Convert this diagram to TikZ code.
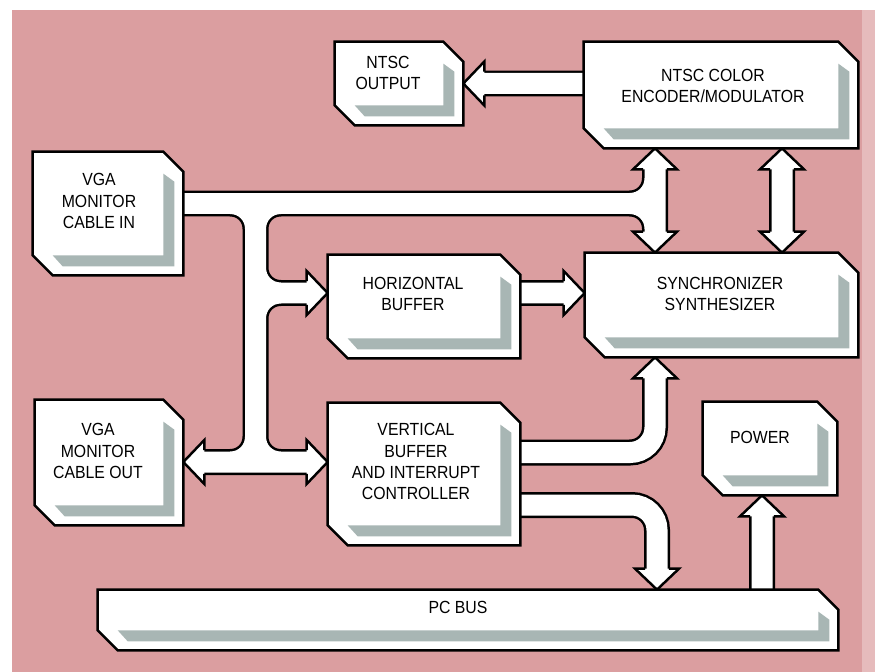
\documentclass[tikz,border=0pt]{standalone}
\usepackage{fontspec}
\setmainfont{Liberation Sans}[FakeStretch=0.9]
\usetikzlibrary{calc}
\definecolor{fond}{RGB}{219,158,160}
\definecolor{ombre}{RGB}{168,182,180}
\pgfdeclarelayer{liaisons}
\pgfsetlayers{liaisons,main}

\begin{document}
\begin{tikzpicture}[x=0.02cm, y=-0.02cm,
  bloc/.style={rectangle, draw=none, inner sep=0pt},
  contour/.style={draw=black, line width=1.4pt, fill=white},
  texte/.style={align=center, font=\fontsize{10}{12}\selectfont},
  bus/.style={draw=white, line width=0.42cm, rounded corners=0.5cm,
    preaction={draw=black, line width=0.52cm}},
  pointe/.pic={\fill[white] (-21,-11) -- (-21,-22) -- (0,0) -- (-21,22) -- (-21,11) -- cycle;
    \draw[line width=1.4pt] (-21,-11.8) -- (-21,-22) -- (0,0) -- (-21,22) -- (-21,11.8);}
]
\useasboundingbox (0,0) rectangle (875,672);
% Blocs
\node[bloc, minimum width=2.56cm, minimum height=1.66cm] (ntscout) at (399,83.5) {};
\node[bloc, minimum width=5.48cm, minimum height=2.12cm] (enc) at (721,95) {};
\node[bloc, minimum width=3.00cm, minimum height=2.46cm] (vgain) at (108,213.5) {};
\node[bloc, minimum width=5.46cm, minimum height=2.08cm] (sync) at (721.5,305) {};
\node[bloc, minimum width=3.84cm, minimum height=2.06cm] (hbuf) at (424,306.5) {};
\node[bloc, minimum width=2.96cm, minimum height=2.50cm] (vgaout) at (109,462.5) {};
\node[bloc, minimum width=3.84cm, minimum height=2.84cm] (vbuf) at (424,474) {};
\node[bloc, minimum width=2.68cm, minimum height=1.86cm] (power) at (770,448.5) {};
\node[bloc, minimum width=14.8cm, minimum height=1.20cm] (pcbus) at (468,620) {};
% Contours et ombres
\foreach \b in {ntscout,enc,vgain,sync,hbuf,vgaout,vbuf,power,pcbus} {
  \draw[contour] (\b.north west) -- ([shift={(-20,0)}]\b.north east) -- ([shift={(0,20)}]\b.north east)
    -- (\b.south east) -- ([shift={(20,0)}]\b.south west) -- ([shift={(0,-20)}]\b.south west) -- cycle;
  \fill[ombre] ([shift={(-20,22)}]\b.north east) -- ([shift={(-9,30)}]\b.north east)
    -- ([shift={(-9,-9)}]\b.south east) -- ([shift={(30,-9)}]\b.south west)
    -- ([shift={(20,-20)}]\b.south west) -- ([shift={(-20,-20)}]\b.south east) -- cycle;
}
% Textes
\node[texte] (ntscoutT) at (388,73) {NTSC\\OUTPUT};
\node[texte] (encT) at (713,86) {NTSC COLOR\\ENCODER/MODULATOR};
\node[texte] (vgainT) at (99,201) {VGA\\MONITOR\\CABLE IN};
\node[texte] (syncT) at (720,294) {SYNCHRONIZER\\SYNTHESIZER};
\node[texte] (hbufT) at (413,294) {HORIZONTAL\\BUFFER};
\node[texte] (vgaoutT) at (98,451) {VGA\\MONITOR\\CABLE OUT};
\node[texte] (vbufT) at (416,461.5) {VERTICAL\\BUFFER\\AND INTERRUPT\\CONTROLLER};
\node[texte] (powerT) at (760,437) {POWER};
\node[texte] (pcbusT) at (458,607) {PC BUS};
% Points du bus
\coordinate (jt) at (255.5,203.5);
\coordinate (jm) at (255.5,293);
\coordinate (jb) at (255.5,462);
\coordinate (jh) at (655,203.5);
\coordinate (jd) at (782,203.5);
\coordinate (kv) at (655,452.5);
\coordinate (kp) at (657,505);
\coordinate (kw) at (762,540);
\begin{pgfonlayer}{liaisons}
\fill[fond] (12,10) rectangle (875,672);
\fill[fond!70!white] (862,10) rectangle (875,672);
% Bus
\draw[bus]
  (vgain.east |- jt) -- (jh)
  (jt) -- (jb)
  (vgain.east |- jt) -- (jt) -- (jm) -- ($(hbuf.west |- jm)+(-20,0)$)
  (jh) -- (jt) -- (jm) -- ($(hbuf.west |- jm)+(-20,0)$)
  ($(hbuf.west |- jm)+(-20,0)$) -- (jm) -- (jb) -- ($(vgaout.east |- jb)+(20,0)$)
  (jm) -- (jb) -- ($(vbuf.west |- jb)+(-20,0)$)
  ($(vgaout.east |- jb)+(20,0)$) -- ($(vbuf.west |- jb)+(-20,0)$)
  (jt) -- (jh) -- ($(enc.south -| jh)+(0,20)$)
  (jt) -- (jh) -- ($(sync.north -| jh)+(0,-20)$)
  ($(enc.south -| jh)+(0,20)$) -- ($(sync.north -| jh)+(0,-20)$)
  ($(enc.south -| jd)+(0,20)$) -- ($(sync.north -| jd)+(0,-20)$)
  (enc.west |- ntscout.east) -- ($(ntscout.east)+(20,0)$)
  (hbuf.east |- jm) -- ($(sync.west |- jm)+(-20,0)$)
  (vbuf.east |- kv) -- (kv) -- ($(sync.south -| kv)+(0,20)$)
  (vbuf.east |- kp) -- (kp) -- ($(pcbus.north -| kp)+(0,-20)$)
  (pcbus.north -| kw) -- ($(power.south -| kw)+(0,20)$);
% Pointes
\pic[rotate=180] at (ntscout.east) {pointe};
\pic[rotate=90] at (enc.south -| jh) {pointe};
\pic[rotate=-90] at (sync.north -| jh) {pointe};
\pic[rotate=90] at (enc.south -| jd) {pointe};
\pic[rotate=-90] at (sync.north -| jd) {pointe};
\pic at (hbuf.west |- jm) {pointe};
\pic at (sync.west |- jm) {pointe};
\pic[rotate=180] at (vgaout.east |- jb) {pointe};
\pic at (vbuf.west |- jb) {pointe};
\pic[rotate=90] at (sync.south -| kv) {pointe};
\pic[rotate=-90] at (pcbus.north -| kp) {pointe};
\pic[rotate=90] at (power.south -| kw) {pointe};
\end{pgfonlayer}
\end{tikzpicture}
\end{document}
